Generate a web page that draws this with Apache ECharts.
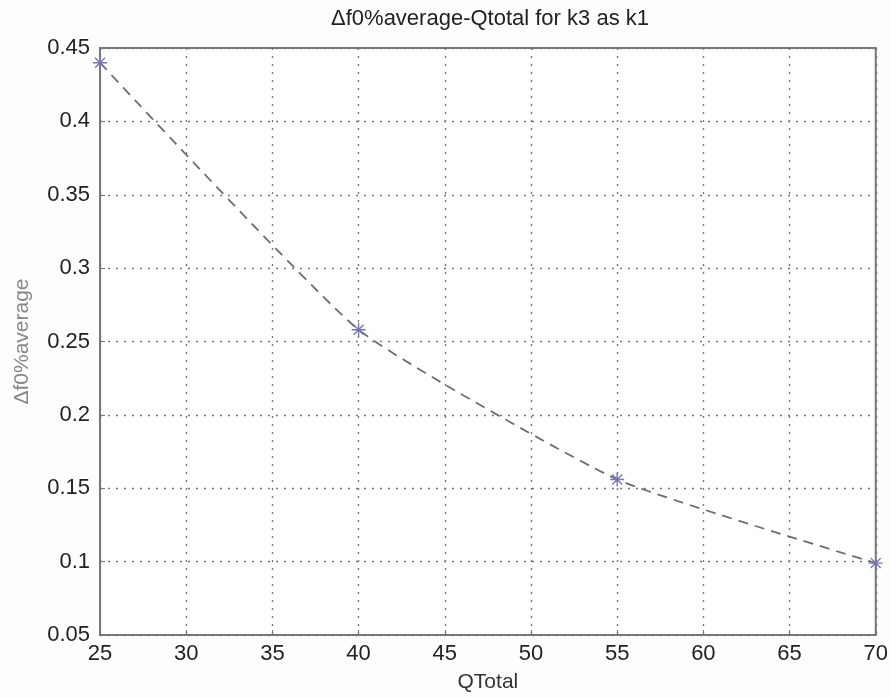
<!DOCTYPE html>
<html>
<head>
<meta charset="utf-8">
<script src="https://cdn.jsdelivr.net/npm/echarts@6/dist/echarts.min.js"></script>
<style>
  html, body { margin: 0; padding: 0; background: #fdfdfd; }
  #chart { width: 891px; height: 698px; }
</style>
</head>
<body>
<div id="chart"></div>
<script>
// values
const qTotal = [25, 40, 55, 70];
const dfAverage = [0.44, 0.258, 0.156, 0.099];

const titleText = 'Δf0%average-Qtotal for k3 as k1';
const xName = 'QTotal';
const yName = 'Δf0%average';

// asterisk marker like matlab's '*'
const starPath = 'path://M9,0h2v20h-2z M0,9h20v2h-20z M2.2,3.6l1.4,-1.4l14.2,14.2l-1.4,1.4z M16.4,2.2l1.4,1.4l-14.2,14.2l-1.4,-1.4z';

const chart = echarts.init(document.getElementById('chart'));
const font = 'Liberation Sans';
const labelFont = { color: '#222', fontSize: 22, fontFamily: font };

chart.setOption({
  backgroundColor: '#fdfdfd',
  animation: false,
  title: {
    text: titleText,
    left: 485,
    textAlign: 'center',
    top: 3,
    textStyle: { fontSize: 22, fontWeight: 'normal', color: '#222', fontFamily: font }
  },
  grid: {
    left: 100, right: 14, top: 48, bottom: 63,
    show: true, borderColor: '#777', borderWidth: 2, backgroundColor: '#fff'
  },
  xAxis: {
    type: 'value',
    min: 25, max: 70, interval: 5,
    name: xName,
    nameLocation: 'middle',
    nameGap: 37,
    nameTextStyle: { fontSize: 21, color: '#333', fontFamily: font },
    axisLine: { show: false },
    axisTick: { inside: true, length: 5, lineStyle: { color: '#777' } },
    axisLabel: Object.assign({ margin: 8 }, labelFont),
    splitLine: { show: true, lineStyle: { color: '#777', type: [2, 6], width: 1.4 } }
  },
  yAxis: {
    type: 'value',
    min: 0.05, max: 0.45, interval: 0.05,
    name: yName,
    nameLocation: 'middle',
    nameGap: 67,
    nameTextStyle: { fontSize: 21, color: '#888', fontFamily: font },
    axisLine: { show: false },
    axisTick: { inside: true, length: 5, lineStyle: { color: '#777' } },
    axisLabel: Object.assign({ margin: 10, formatter: v => String(+v.toFixed(2)) }, labelFont),
    splitLine: { show: true, lineStyle: { color: '#777', type: [2, 6], width: 1.4 } }
  },
  series: [{
    type: 'line',
    data: qTotal.map((q, i) => [q, dfAverage[i]]),
    smooth: 0.15,
    symbol: starPath,
    symbolSize: 14,
    itemStyle: { color: '#7676ac' },
    lineStyle: { color: '#6c6c74', width: 1.8, type: [10, 7] }
  }]
});
</script>
</body>
</html>
